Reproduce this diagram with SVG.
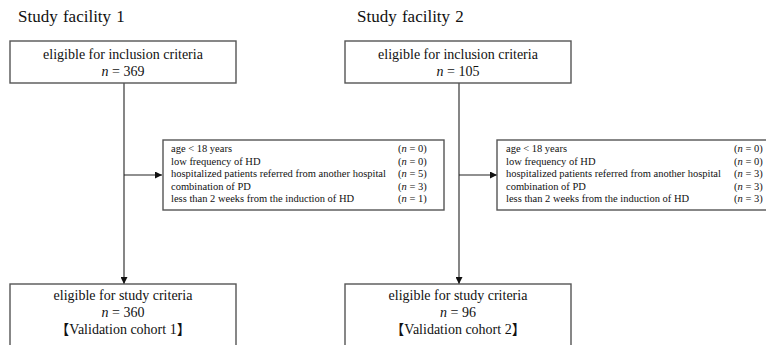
<svg xmlns="http://www.w3.org/2000/svg" width="766" height="345" viewBox="0 0 766 345">
<style>
text{font-family:"Liberation Serif","Noto Sans CJK JP",serif;fill:#111}
.title{font-size:17px;word-spacing:1px}
.main{font-size:14px;text-anchor:middle}
.ex{font-size:10.5px}
.box{fill:#fff;stroke:#555;stroke-width:1.4}
.conn{stroke:#222;stroke-width:1.1;fill:none}
</style>
<defs>
<marker id="ah" viewBox="0 0 10 10" refX="10" refY="5" markerWidth="7" markerHeight="7" orient="auto" markerUnits="userSpaceOnUse">
<path d="M0,0 L10,5 L0,10 z" fill="#111"/>
</marker>
</defs>
<text class="title" x="18" y="22">Study facility 1</text>
<text class="title" x="357" y="22">Study facility 2</text>
<g id="connectors">
<line class="conn" x1="124" y1="83" x2="124" y2="284" marker-end="url(#ah)"/>
<line class="conn" x1="124" y1="175" x2="162" y2="175" marker-end="url(#ah)"/>
<line class="conn" x1="459" y1="83" x2="459" y2="284" marker-end="url(#ah)"/>
<line class="conn" x1="459" y1="175" x2="497" y2="175" marker-end="url(#ah)"/>
</g>
<g id="top1">
<rect class="box" x="10" y="41" width="226" height="42"/>
<text class="main" x="123" y="59">eligible for inclusion criteria</text>
<text class="main" x="123" y="76"><tspan font-style="italic">n</tspan> = 369</text>
</g>
<g id="top2">
<rect class="box" x="345" y="41" width="226" height="42"/>
<text class="main" x="458" y="59">eligible for inclusion criteria</text>
<text class="main" x="458" y="76"><tspan font-style="italic">n</tspan> = 105</text>
</g>
<g id="excl1">
<rect class="box" x="163" y="140" width="281" height="70"/>
<text class="ex" x="171" y="152">age &lt; 18 years</text>
<text class="ex" x="171" y="164.5">low frequency of HD</text>
<text class="ex" x="171" y="177">hospitalized patients referred from another hospital</text>
<text class="ex" x="171" y="189.5">combination of PD</text>
<text class="ex" x="171" y="202">less than 2 weeks from the induction of HD</text>
<text class="ex" x="398" y="152">(<tspan font-style="italic">n</tspan> = 0)</text>
<text class="ex" x="398" y="164.5">(<tspan font-style="italic">n</tspan> = 0)</text>
<text class="ex" x="398" y="177">(<tspan font-style="italic">n</tspan> = 5)</text>
<text class="ex" x="398" y="189.5">(<tspan font-style="italic">n</tspan> = 3)</text>
<text class="ex" x="398" y="202">(<tspan font-style="italic">n</tspan> = 1)</text>
</g>
<g id="excl2">
<rect class="box" x="497" y="140" width="275" height="70"/>
<text class="ex" x="506" y="152">age &lt; 18 years</text>
<text class="ex" x="506" y="164.5">low frequency of HD</text>
<text class="ex" x="506" y="177">hospitalized patients referred from another hospital</text>
<text class="ex" x="506" y="189.5">combination of PD</text>
<text class="ex" x="506" y="202">less than 2 weeks from the induction of HD</text>
<text class="ex" x="734" y="152">(<tspan font-style="italic">n</tspan> = 0)</text>
<text class="ex" x="734" y="164.5">(<tspan font-style="italic">n</tspan> = 0)</text>
<text class="ex" x="734" y="177">(<tspan font-style="italic">n</tspan> = 3)</text>
<text class="ex" x="734" y="189.5">(<tspan font-style="italic">n</tspan> = 3)</text>
<text class="ex" x="734" y="202">(<tspan font-style="italic">n</tspan> = 3)</text>
</g>
<g id="bottom1">
<rect class="box" x="10" y="284" width="226" height="80"/>
<text class="main" x="123" y="300">eligible for study criteria</text>
<text class="main" x="123" y="317"><tspan font-style="italic">n</tspan> = 360</text>
<text class="main" x="123" y="334">【Validation cohort 1】</text>
</g>
<g id="bottom2">
<rect class="box" x="345" y="284" width="226" height="80"/>
<text class="main" x="458" y="300">eligible for study criteria</text>
<text class="main" x="458" y="317"><tspan font-style="italic">n</tspan> = 96</text>
<text class="main" x="458" y="334">【Validation cohort 2】</text>
</g>
</svg>
